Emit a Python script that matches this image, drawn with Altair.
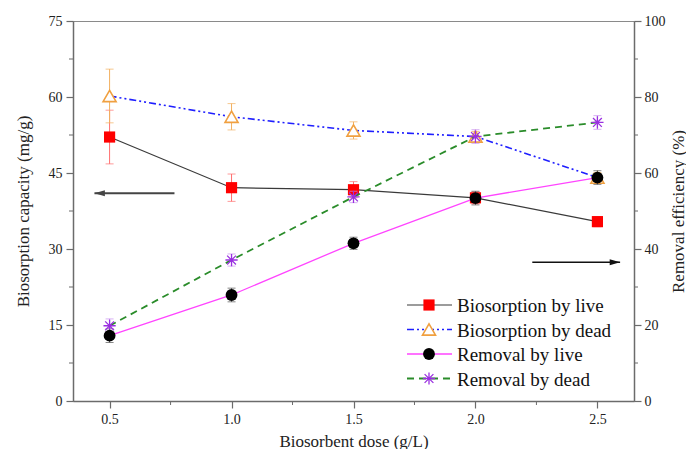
import altair as alt
import pandas as pd

# ---------------- data ----------------
dose = [0.5, 1.0, 1.5, 2.0, 2.5]
bio_live = [52.1, 42.1, 41.7, 40.1, 35.4]
bio_live_err = [5.3, 2.7, 1.6, 1.2, 1.0]
bio_dead = [60.2, 56.1, 53.4, 52.2, 44.1]
bio_dead_err = [5.3, 2.6, 1.7, 1.0, 1.0]
rem_live = [17.2, 27.9, 41.5, 53.4, 58.8]
rem_live_err = [1.8, 1.8, 1.6, 1.8, 1.8]
rem_dead = [19.8, 37.1, 53.7, 69.6, 73.3]
rem_dead_err = [1.8, 1.6, 1.5, 1.8, 1.8]

x_ticks = [0.5, 1.0, 1.5, 2.0, 2.5]
x_minor = [0.75, 1.25, 1.75, 2.25]
left_ticks = [0, 15, 30, 45, 60, 75]
left_minor = [7.5, 22.5, 37.5, 52.5, 67.5]
right_ticks = [0, 20, 40, 60, 80, 100]
right_minor = [10, 30, 50, 70, 90]

arrow_left_x = [0.438, 0.766]
arrow_left_y = [41.0, 41.0]
arrow_right_x = [2.233, 2.593]
arrow_right_y = [36.5, 36.5]

labels = ["Biosorption by live", "Biosorption by dead", "Removal by live", "Removal by dead"]

FONT = "'Liberation Serif', 'Times New Roman', serif"
W, H = 561, 380
AX = "#6b6b6b"


def series(vals, errs):
    return pd.DataFrame({
        "dose": dose,
        "v": vals,
        "lo": [v - e for v, e in zip(vals, errs)],
        "hi": [v + e for v, e in zip(vals, errs)],
    })


xs = alt.Scale(domain=[0.35, 2.65], nice=False, zero=False)
ls = alt.Scale(domain=[0, 75], nice=False, zero=False)
rs = alt.Scale(domain=[0, 100], nice=False, zero=False)

x_axis = alt.Axis(values=x_ticks, format=".1f", title="Biosorbent dose (g/L)", grid=False,
                  tickSize=7, labelPadding=4, titlePadding=7, orient="bottom")
l_axis = alt.Axis(values=left_ticks, title="Biosorption capacity (mg/g)", grid=False,
                  tickSize=7, labelPadding=4, orient="left",
                  titleAngle=270, titleX=-50, titleY=H / 2, titleAlign="center",
                  titleBaseline="middle")
r_axis = alt.Axis(values=right_ticks, title="Removal efficiency (%)", grid=False,
                  tickSize=7, labelPadding=3, orient="right",
                  titleAngle=270, titleX=44, titleY=H / 2, titleAlign="center",
                  titleBaseline="middle")


def X(f="dose"):
    return alt.X(f"{f}:Q", scale=xs, axis=x_axis)


def Y(f, side):
    if side == "L":
        return alt.Y(f"{f}:Q", scale=ls, axis=l_axis)
    return alt.Y(f"{f}:Q", scale=rs, axis=r_axis)


def group(df, side, line_kw, marker_kw, err_color):
    base = alt.Chart(df)
    err = base.mark_rule(color=err_color, strokeWidth=1).encode(
        x=X(), y=Y("lo", side), y2="hi:Q")
    caps_lo = base.mark_tick(orient="horizontal", size=8, thickness=1, color=err_color).encode(
        x=X(), y=Y("lo", side))
    caps_hi = base.mark_tick(orient="horizontal", size=8, thickness=1, color=err_color).encode(
        x=X(), y=Y("hi", side))
    line = base.mark_line(**line_kw).encode(x=X(), y=Y("v", side))
    pts = base.mark_point(**marker_kw).encode(x=X(), y=Y("v", side))
    return [err, caps_lo, caps_hi], line, pts


ASTER = "M0,-1L0,1M-1,0L1,0M-0.72,-0.72L0.72,0.72M-0.72,0.72L0.72,-0.72"
ARROW_L = "M0,0L2.6,-0.75L2.6,0.75Z"
ARROW_R = "M0,0L-2.6,-0.75L-2.6,0.75Z"

line_bl = dict(color="#3a3a3a", strokeWidth=1.2)
line_bd = dict(color="#1f1fff", strokeWidth=1.6, strokeDash=[7, 3, 2, 3, 2, 3])
line_rl = dict(color="#ff44ff", strokeWidth=1.3)
line_rd = dict(color="#2a8c2a", strokeWidth=1.8, strokeDash=[7, 5])

mk_bl = dict(shape="square", size=125, filled=True, color="#ff0000", opacity=1)
mk_bd = dict(shape="triangle-up", size=170, fill="white", stroke="#f0a040", strokeWidth=1.6,
             fillOpacity=1, opacity=1)
mk_rl = dict(shape="circle", size=140, filled=True, color="#000000", opacity=1)
mk_rd = dict(shape=ASTER, size=150, filled=False, stroke="#9a30e0", strokeWidth=1.3, opacity=1)

e_bl, l_bl, p_bl = group(series(bio_live, bio_live_err), "L", line_bl, mk_bl, "#ff6f6f")
e_bd, l_bd, p_bd = group(series(bio_dead, bio_dead_err), "L", line_bd, mk_bd, "#f2b060")
e_rl, l_rl, p_rl = group(series(rem_live, rem_live_err), "R", line_rl, mk_rl, "#555555")
e_rd, l_rd, p_rd = group(series(rem_dead, rem_dead_err), "R", line_rd, mk_rd, "#c890f0")

# minor ticks
xm = alt.Chart(pd.DataFrame({"m": x_minor})).mark_rule(color=AX, strokeWidth=1).encode(
    x=X("m"), y=alt.value(H), y2=alt.value(H + 4))
lm = alt.Chart(pd.DataFrame({"m": left_minor})).mark_rule(color=AX, strokeWidth=1).encode(
    y=Y("m", "L"), x=alt.value(0), x2=alt.value(-4))
rm = alt.Chart(pd.DataFrame({"m": right_minor})).mark_rule(color=AX, strokeWidth=1).encode(
    y=Y("m", "R"), x=alt.value(W), x2=alt.value(W + 4))

# arrows
al_df = pd.DataFrame({"x": [arrow_left_x[0]], "x2": [arrow_left_x[1]], "y": [arrow_left_y[0]]})
arrow_l = alt.Chart(al_df).mark_rule(color="#444444", strokeWidth=2).encode(
    x=X("x"), x2="x2:Q", y=Y("y", "L"))
head_l = alt.Chart(al_df).mark_point(shape=ARROW_L, size=64, filled=True, color="#444444",
                                     opacity=1).encode(x=X("x"), y=Y("y", "L"))
ar_df = pd.DataFrame({"x": [arrow_right_x[0]], "x2": [arrow_right_x[1]], "y": [arrow_right_y[0]]})
arrow_r = alt.Chart(ar_df).mark_rule(color="#111111", strokeWidth=1.5).encode(
    x=X("x"), x2="x2:Q", y=Y("y", "R"))
head_r = alt.Chart(ar_df).mark_point(shape=ARROW_R, size=64, filled=True, color="#111111",
                                     opacity=1).encode(x=X("x2"), y=Y("y", "R"))

# manual legend (layout only)
row_y = [284, 308.5, 333, 357.5]
lx0, lx1, mx, tx = 334, 379, 356, 384
leg_lines = [line_bl, line_bd, line_rl, line_rd]
leg_marks = [mk_bl, mk_bd, mk_rl, mk_rd]
one = pd.DataFrame({"k": [0]})
legend_layers = []
for i, lab in enumerate(labels):
    legend_layers.append(alt.Chart(one).mark_rule(**leg_lines[i]).encode(
        x=alt.value(lx0), x2=alt.value(lx1), y=alt.value(row_y[i])))
    legend_layers.append(alt.Chart(one).mark_point(**leg_marks[i]).encode(
        x=alt.value(mx), y=alt.value(row_y[i])))
    legend_layers.append(alt.Chart(pd.DataFrame({"t": [lab]})).mark_text(
        align="left", baseline="middle", font=FONT, fontSize=19, color="#111111", dy=1).encode(
        x=alt.value(tx), y=alt.value(row_y[i]), text="t:N"))

left = alt.layer(l_bl, l_bd, *e_bl, *e_bd, p_bd, p_bl, xm, lm, arrow_l, head_l)
right = alt.layer(l_rl, l_rd, *e_rl, *e_rd, p_rd, p_rl, rm, arrow_r, head_r, *legend_layers)

chart = alt.layer(left, right).resolve_scale(y="independent").properties(
    width=W, height=H,
    autosize=alt.AutoSizeParams(type="none"),
    padding={"left": 73, "top": 21, "right": 52, "bottom": 48},
).configure_view(stroke="#8a8a8a", strokeWidth=1).configure_axis(
    labelFont=FONT, titleFont=FONT, labelFontSize=14, titleFontSize=17,
    titleFontWeight="normal", labelColor="#222222", titleColor="#222222",
    domainColor=AX, tickColor=AX, domainWidth=1.5, tickWidth=1.2,
)

chart.save("out.html", embed_options={"renderer": "svg", "actions": False})
